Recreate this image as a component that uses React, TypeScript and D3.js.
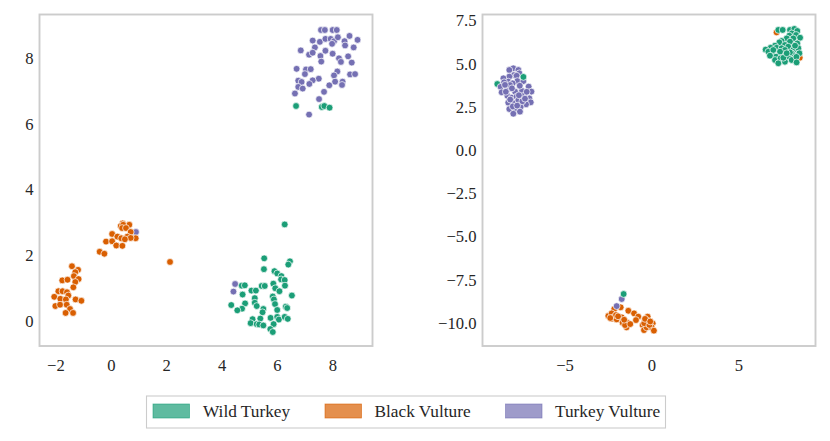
import React from "react";
import * as d3 from "d3";

type P = [number, number];
const COLORS = { wild: "#1b9e77", black: "#d95f02", turkey: "#7570b3" };
const legendLabels = ["Wild Turkey", "Black Vulture", "Turkey Vulture"];

const leftXTicks = [-2, 0, 2, 4, 6, 8];
const leftYTicks = [0, 2, 4, 6, 8];
const rightXTicks = [-5, 0, 5];
const rightYTicks = [7.5, 5, 2.5, 0, -2.5, -5, -7.5, -10];

const leftTurkey: P[] = [[7.57,8.86],[7.71,8.86],[7.99,8.86],[8.14,8.86],[7.27,8.54],[7.53,8.5],[7.73,8.59],[7.92,8.59],[8.04,8.52],[7.97,8.44],[8.18,8.64],[8.42,8.52],[8.6,8.68],[8.89,8.56],[8.44,8.39],[8.75,8.33],[7.35,8.33],[6.84,8.24],[7.14,8.11],[7.27,8.17],[7.73,8.23],[7.55,8.07],[7.99,8.14],[8.22,8],[8.29,7.89],[8.55,8.06],[8.68,7.87],[7.58,7.9],[6.69,7.68],[7.03,7.66],[7.2,7.67],[6.99,7.52],[8.16,7.6],[8.04,7.48],[8.62,7.51],[8.8,7.52],[7.49,7.38],[7.27,7.33],[6.75,7.32],[6.87,7.28],[7.15,7.22],[7.87,7.18],[8.08,7.29],[8.35,7.29],[8.33,7.19],[6.75,7.13],[6.91,7.08],[6.63,6.93],[7.68,6.98],[7.5,6.76],[7.14,6.29],[4.47,1.14],[4.41,0.91],[0.89,2.72]];
const leftWild: P[] = [[6.67,6.55],[7.6,6.52],[7.69,6.55],[7.88,6.5],[6.26,2.95],[5.52,1.92],[6.45,1.83],[6.39,1.73],[5.51,1.59],[5.89,1.53],[5.99,1.46],[6.14,1.38],[5.85,1.15],[6.13,1.28],[6.26,1.26],[6.27,1.09],[5.92,1.01],[6.07,0.92],[4.71,1.09],[4.82,1.1],[5.43,1.08],[5.54,1.08],[5.06,0.94],[5.22,0.94],[4.74,0.82],[5.18,0.71],[5.83,0.76],[5.87,0.67],[6.52,0.79],[4.83,0.55],[5.18,0.57],[5.25,0.47],[5.91,0.53],[4.33,0.5],[4.72,0.39],[4.55,0.34],[6.3,0.45],[6.35,0.41],[5.99,0.35],[5.49,0.38],[5.46,0.28],[5.75,0.11],[5.99,0.14],[6.05,0.06],[6.26,0.14],[6.37,0.08],[5.1,0.07],[5.38,0.09],[5.03,-0.05],[5.25,-0.08],[5.34,-0.09],[5.49,-0.12],[5.86,-0.08],[5.74,-0.23],[5.83,-0.32]];
const leftBlack: P[] = [[0.41,2.98],[0.65,2.94],[0.34,2.9],[0.43,2.94],[0.39,2.84],[0.53,2.84],[0.7,2.72],[0.03,2.66],[0.22,2.58],[0.58,2.58],[0.36,2.53],[0.88,2.53],[0.7,2.54],[0.49,2.5],[-0.19,2.43],[0.03,2.44],[0.18,2.31],[0.4,2.3],[-0.42,2.12],[-0.25,2.06],[2.12,1.81],[-1.42,1.68],[-1.2,1.57],[-1.3,1.5],[-1.35,1.38],[-1.18,1.29],[-1.77,1.25],[-1.58,1.27],[-1.3,1.2],[-1.37,1.04],[-1.91,0.92],[-1.76,0.92],[-1.6,0.89],[-1.55,0.79],[-2.06,0.75],[-1.84,0.69],[-1.64,0.67],[-1.29,0.67],[-1.08,0.63],[-2.02,0.47],[-1.85,0.51],[-1.61,0.51],[-1.49,0.38],[-1.65,0.26],[-1.38,0.26]];

const rightBlack: P[] = [[7.16,6.84],[8.49,5.37],[-2.17,-9.18],[-1.8,-9.08],[-1.36,-9.28],[-1.03,-9.43],[-0.79,-9.62],[-0.92,-9.82],[-0.25,-9.62],[-0.27,-9.86],[-2.51,-9.58],[-2.32,-9.43],[-2.22,-9.66],[-2.3,-9.74],[-2.03,-9.78],[-1.74,-9.66],[-1.69,-9.97],[-1.42,-9.97],[-1.46,-10.24],[-0.54,-10.11],[-0.46,-10.4],[-0.31,-10.24],[0.04,-10.01],[-0.02,-10.24],[0.11,-10.43],[-2.07,-9.53],[-1.55,-10.11],[-1.95,-9.6],[-2.4,-9.7],[-1.6,-9.8],[-1.25,-10.05],[-0.45,-10.0],[-0.15,-10.1],[-0.4,-9.75],[-0.1,-9.9]];
const rightWildUnder: P[] = [[-8.89,3.85]];
const rightTurkey: P[] = [[-7.97,4.76],[-8.2,4.66],[-7.68,4.66],[-7.62,4.47],[-7.93,4.37],[-8.2,4.28],[-8.54,4.18],[-7.78,4.33],[-8.26,3.99],[-7.74,4.02],[-8.01,3.89],[-8.5,3.95],[-8.7,3.68],[-7.09,3.7],[-6.93,3.41],[-8.31,3.54],[-7.87,3.41],[-7.47,3.45],[-7.36,3.17],[-8.31,3.17],[-8.64,3.37],[-8.06,3.06],[-7.78,3.12],[-7.05,3.02],[-6.97,2.79],[-7.24,2.67],[-8.26,2.77],[-7.93,2.73],[-7.55,2.52],[-8.2,2.4],[-7.87,2.44],[-7.59,2.25],[-7.97,2.13],[-7.68,2.92],[-8.16,3.79],[-7.39,4.02],[-8.05,3.6],[-8.45,3.8],[-7.6,3.75],[-7.2,3.4],[-7.65,3.2],[-8.15,2.95],[-7.45,2.85],[-8.0,2.55],[-7.75,2.6],[-7.3,3.0],[-8.4,3.4],[-1.74,-8.6],[-2.03,-9.01],[8.18,5.53]];
const rightWild: P[] = [[7.26,6.98],[7.51,6.98],[7.93,6.98],[8.18,7.04],[8.35,6.92],[8.03,6.78],[8.28,6.69],[7.89,6.65],[8.51,6.53],[8.12,6.49],[7.74,6.49],[7.45,6.34],[7.93,6.3],[7.32,6.26],[8.35,6.2],[7.64,6.11],[7.07,6.07],[6.82,5.95],[6.53,5.84],[7.16,5.95],[7.45,5.92],[7.83,6.01],[8.12,5.82],[8.41,5.92],[8.47,5.63],[8.03,5.63],[7.64,5.82],[7.36,5.72],[6.88,5.57],[6.69,5.72],[7.13,5.43],[7.07,5.24],[7.39,5.34],[7.83,5.43],[7.64,5.14],[7.26,5.05],[8.03,5.24],[8.3,5.42],[8.31,5.1],[7.55,5.37],[7.93,5.68],[6.97,5.82],[8.22,6.07],[7.74,5.63],[6.78,5.49],[-7.39,4.26],[-1.63,-8.31]];

const FONT = "'Liberation Serif', 'Times New Roman', serif";
const TEXT = "#262626";
const FRAME = "#cccccc";

type Layer = { pts: P[]; color: string };

function Panel({ box, xDomain, yDomain, xTicks, yTicks, layers }: {
  box: [number, number, number, number];
  xDomain: [number, number]; yDomain: [number, number];
  xTicks: number[]; yTicks: number[]; layers: Layer[];
}) {
  const [x0, y0, x1, y1] = box;
  const x = d3.scaleLinear().domain(xDomain).range([x0, x1]);
  const y = d3.scaleLinear().domain(yDomain).range([y1, y0]);
  const minus = (v: number, digits: number) => d3.format(`.${digits}f`)(v).replace("-", "\u2212");
  const digits = yTicks.some((t) => !Number.isInteger(t)) ? 1 : 0;
  return (
    <g fontFamily={FONT} fontSize={16.6} fill={TEXT}>
      {xTicks.map((t) => (
        <text key={t} x={x(t)} y={y1 + 24.5} textAnchor="middle">{minus(t, 0)}</text>
      ))}
      {yTicks.map((t) => (
        <text key={t} x={x0 - 6} y={y(t) + 5.5} textAnchor="end">{minus(t, digits)}</text>
      ))}
      {layers.map((l, i) => (
        <g key={i}>
          {l.pts.map((p, j) => (
            <circle key={j} cx={x(p[0])} cy={y(p[1])} r={3.4} fill={l.color} stroke="#fff" strokeWidth={0.7} />
          ))}
        </g>
      ))}
      <rect x={x0} y={y0} width={x1 - x0} height={y1 - y0} fill="none" stroke={FRAME} strokeWidth={1.9} />
    </g>
  );
}

function Legend() {
  const items = [
    { label: legendLabels[0], color: COLORS.wild, px: 153, tx: 203 },
    { label: legendLabels[1], color: COLORS.black, px: 325, tx: 374.5 },
    { label: legendLabels[2], color: COLORS.turkey, px: 505.5, tx: 555 },
  ];
  return (
    <g fontFamily={FONT} fontSize={17.3} fill={TEXT}>
      <rect x={146.5} y={396} width={519} height={32} fill="#fff" stroke={FRAME} strokeWidth={1.1} />
      {items.map((it) => (
        <g key={it.label}>
          <rect x={it.px} y={404} width={36.5} height={14} fill={it.color} fillOpacity={0.7} stroke={it.color} strokeOpacity={0.7} strokeWidth={0.8} />
          <text x={it.tx} y={416.5}>{it.label}</text>
        </g>
      ))}
    </g>
  );
}

export default function App() {
  return (
    <svg width={830} height={441} viewBox="0 0 830 441" style={{ position: "absolute", left: 0, top: 0, background: "#fff" }}>
      <Panel
        box={[39.5, 14.5, 372.5, 346]}
        xDomain={[(39.5 - 111.3) / 27.7, (372.5 - 111.3) / 27.7]}
        yDomain={[(321.5 - 346) / 32.9, (321.5 - 14.5) / 32.9]}
        xTicks={leftXTicks}
        yTicks={leftYTicks}
        layers={[
          { pts: leftTurkey, color: COLORS.turkey },
          { pts: leftWild, color: COLORS.wild },
          { pts: leftBlack, color: COLORS.black },
        ]}
      />
      <Panel
        box={[482.5, 14.5, 815.5, 346]}
        xDomain={[(482.5 - 652) / 17.4, (815.5 - 652) / 17.4]}
        yDomain={[(150.5 - 346) / 17.27, (150.5 - 14.5) / 17.27]}
        xTicks={rightXTicks}
        yTicks={rightYTicks}
        layers={[
          { pts: rightBlack, color: COLORS.black },
          { pts: rightWildUnder, color: COLORS.wild },
          { pts: rightTurkey, color: COLORS.turkey },
          { pts: rightWild, color: COLORS.wild },
        ]}
      />
      <Legend />
    </svg>
  );
}
